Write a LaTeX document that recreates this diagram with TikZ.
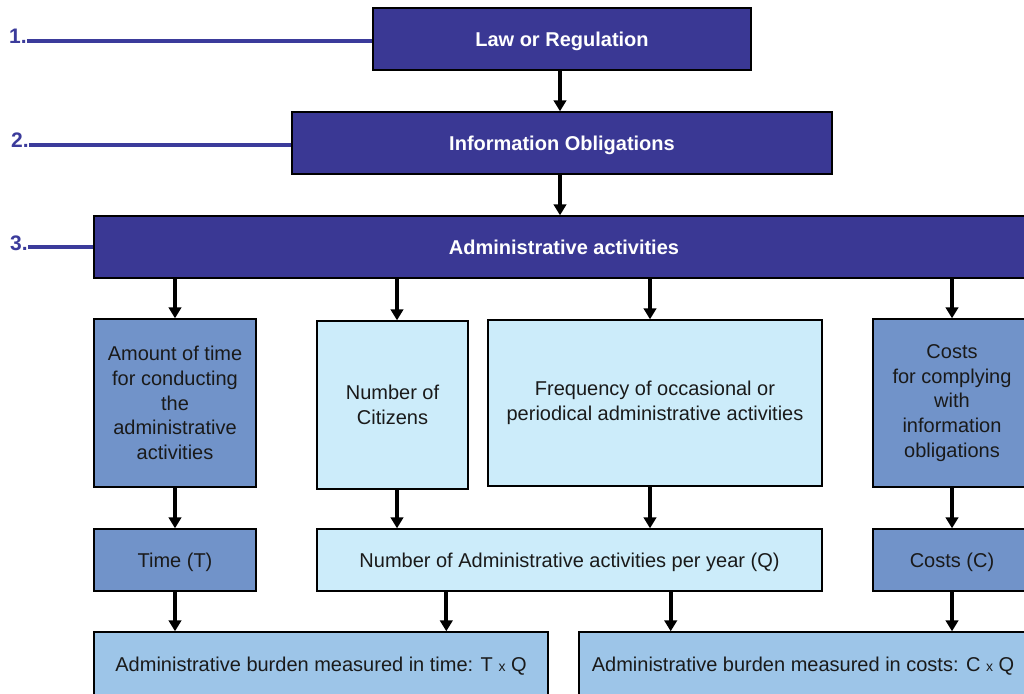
\documentclass[tikz,border=0pt]{standalone}
\usepackage{fontspec}
\setmainfont{Liberation Sans}
\usetikzlibrary{arrows.meta,calc}

\definecolor{darkbox}{RGB}{58,56,148}
\definecolor{labelblue}{RGB}{59,59,155}
\definecolor{midbox}{RGB}{113,147,201}
\definecolor{lightbox}{RGB}{204,236,250}
\definecolor{burdenbox}{RGB}{157,197,232}
\definecolor{inktext}{RGB}{26,26,26}

\tikzset{
  base/.style={draw=black, line width=1.4pt, inner sep=0pt, align=center,
    font=\fontsize{20}{24.6}\selectfont},
  oneline/.style={text height=14.5pt, text depth=0pt},
  headbox/.style={base, oneline, fill=darkbox, text=white, font=\fontsize{20}{24.6}\selectfont\bfseries},
  midnode/.style={base, fill=midbox, text=inktext},
  lightnode/.style={base, fill=lightbox, text=inktext},
  burdennode/.style={base, oneline, fill=burdenbox, text=inktext},
  arr/.style={line width=3.8pt, black, -{Triangle[width=12.5pt,length=11pt]}},
  levelline/.style={line width=4pt, labelblue},
  levellabel/.style={text=labelblue, font=\fontsize{21}{21}\selectfont\bfseries, inner sep=0pt}
}
\newcommand{\smallx}{{\fontsize{14}{14}\selectfont x}}

\begin{document}
\begin{tikzpicture}[x=1pt, y=-1pt]
\useasboundingbox (0,0) rectangle (1024,693);
\clip (0,0) rectangle (1024,693);
\fill[white] (0,0) rectangle (1024,693);

% top chain
\node[headbox, minimum width=378pt, minimum height=62pt] (law) at (562,39) {Law or Regulation};
\node[headbox, minimum width=540pt, minimum height=62pt] (info) at (562,143) {Information Obligations};
\node[headbox, minimum width=940pt, minimum height=62pt] (admin) at (564,247) {Administrative activities};

% level labels
\node[levellabel, anchor=base west] (l1) at (9,44) {1.};
\node[levellabel, anchor=base west] (l2) at (11,147.5) {2.};
\node[levellabel, anchor=base west] (l3) at (10,250) {3.};
\draw[levelline] ([yshift=3pt]l1.base east) -- ([yshift=3pt]l1.base east -| law.west);
\draw[levelline] ([yshift=3pt]l2.base east) -- ([yshift=3pt]l2.base east -| info.west);
\draw[levelline] ([yshift=3pt]l3.base east) -- ([yshift=3pt]l3.base east -| admin.west);

% factor boxes
\node[midnode, minimum width=162pt, minimum height=168pt] (amount) at (175,403)
  {Amount of time\\for conducting\\the\\administrative\\activities};
\node[lightnode, minimum width=151pt, minimum height=168pt] (citizens) at (392.5,405)
  {Number of\\Citizens};
\node[lightnode, minimum width=334pt, minimum height=166pt] (freq) at (655,403)
  {Frequency of occasional or\\periodical administrative activities};
\node[midnode, minimum width=158pt, minimum height=168pt] (costs) at (952,403)
  {Costs\\for complying\\with\\information\\obligations};

% measures
\node[midnode, oneline, minimum width=162pt, minimum height=62pt] (time) at (175,560) {Time (T)};
\node[lightnode, oneline, minimum width=505pt, minimum height=62pt] (numq) at (569.5,560)
  {Number of Administrative activities per year (Q)};
\node[midnode, oneline, minimum width=158pt, minimum height=62pt] (costc) at (952,560) {Costs (C)};

% burdens
\node[burdennode, minimum width=454pt, minimum height=64pt] (burdT) at (321,664)
  {Administrative burden measured in time: T \smallx{} Q};
\node[burdennode, minimum width=448pt, minimum height=64pt] (burdC) at (803,664)
  {Administrative burden measured in costs: C \smallx{} Q};

% connectors
\draw[arr] ([xshift=-2pt]law.south) -- ([xshift=-2pt]law.south |- info.north);
\draw[arr] ([xshift=-2pt]info.south) -- ([xshift=-2pt]info.south |- admin.north);

\draw[arr] (admin.south -| amount.north) -- (amount.north);
\draw[arr] ([xshift=4.5pt]admin.south -| citizens.north) -- ([xshift=4.5pt]citizens.north);
\draw[arr] ([xshift=-5pt]admin.south -| freq.north) -- ([xshift=-5pt]freq.north);
\draw[arr] (admin.south -| costs.north) -- (costs.north);

\draw[arr] (amount.south) -- (time.north);
\draw[arr] ([xshift=4.5pt]citizens.south) -- ([xshift=4.5pt]citizens.south |- numq.north);
\draw[arr] ([xshift=-5pt]freq.south) -- ([xshift=-5pt]freq.south |- numq.north);
\draw[arr] (costs.south) -- (costc.north);

\draw[arr] (time.south) -- (time.south |- burdT.north);
\draw[arr] ([xshift=130pt]numq.south west) -- ([xshift=130pt]numq.south west |- burdT.north);
\draw[arr] ([xshift=-152pt]numq.south east) -- ([xshift=-152pt]numq.south east |- burdC.north);
\draw[arr] (costc.south) -- (costc.south |- burdC.north);
\end{tikzpicture}
\end{document}
